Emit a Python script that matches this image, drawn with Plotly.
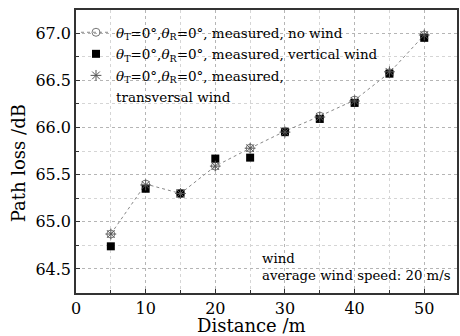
import plotly.graph_objects as go

distance = [5, 10, 15, 20, 25, 30, 35, 40, 45, 50]
no_wind = [64.87, 65.40, 65.30, 65.59, 65.78, 65.96, 66.12, 66.29, 66.58, 66.98]
vertical_wind = [64.74, 65.35, 65.30, 65.67, 65.68, 65.95, 66.09, 66.26, 66.57, 66.95]
transversal_wind = [64.87, 65.39, 65.30, 65.59, 65.78, 65.95, 66.11, 66.28, 66.59, 66.98]

lbl = "<i>θ</i><sub>T</sub>=0°,<i>θ</i><sub>R</sub>=0°, measured, "
names = [lbl + "no wind", lbl + "vertical wind", lbl.rstrip(), "transversal wind"]

FONT = "DejaVu Serif"

# plot area in pixels (for converting layout positions to paper fractions)
L, R, T, B = 76, 459, 10, 293
W, H = R - L, B - T
px = lambda x: (x - L) / W
py = lambda y: (B - y) / H

fig = go.Figure()
fig.add_trace(go.Scatter(
    x=distance, y=no_wind, mode="lines+markers", name=names[0], legendgroup="a",
    line=dict(color="#888888", width=1, dash="dot"),
    marker=dict(symbol="circle-open", size=8, color="#777777", line=dict(width=1))))
fig.add_trace(go.Scatter(
    x=distance, y=vertical_wind, mode="markers", name=names[1], legendgroup="b",
    marker=dict(symbol="square", size=8, color="black")))
fig.add_trace(go.Scatter(
    x=distance, y=transversal_wind, mode="markers", name=names[2], legendgroup="c",
    marker=dict(symbol="asterisk-open", size=9, color="#555555", line=dict(width=1, color="#555555"))))
# continuation line of the third legend label
fig.add_trace(go.Scatter(
    x=[None], y=[None], mode="markers", name=names[3], legendgroup="d",
    marker=dict(symbol="square", size=8, color="rgba(0,0,0,0)"), hoverinfo="skip"))

# white boxes hiding the grid behind legend and note (below the data marks)
fig.add_shape(type="rect", xref="paper", yref="paper", x0=0, x1=px(375), y0=py(90), y1=1,
              fillcolor="white", line=dict(width=0), layer="between")
fig.add_shape(type="rect", xref="paper", yref="paper", x0=0, x1=px(300), y0=py(102), y1=py(89),
              fillcolor="white", line=dict(width=0), layer="between")
fig.add_shape(type="rect", xref="paper", yref="paper", x0=px(258), x1=1, y0=0, y1=py(250),
              fillcolor="white", line=dict(width=0), layer="between")

fig.add_annotation(
    x=px(262), y=py(267), xref="paper", yref="paper", xanchor="left", yanchor="middle",
    text="wind<br>average wind speed: 20 m/s", showarrow=False, align="left",
    font=dict(family=FONT, size=13.3, color="black"), borderpad=0)

# axis titles
fig.add_annotation(
    xref="paper", yref="paper", x=px(252.5), y=py(325), text="Distance /m", showarrow=False,
    xanchor="center", yanchor="middle", font=dict(family=FONT, size=18, color="black"))
fig.add_annotation(
    xref="paper", yref="paper", x=px(18), y=py(163),
    text="Path loss /dB", textangle=-90, showarrow=False, xanchor="center", yanchor="middle",
    font=dict(family=FONT, size=18, color="black"))

axis_common = dict(
    showline=True, linecolor="#333333", linewidth=1.5, mirror=True,
    ticks="inside", ticklen=4, tickcolor="#333333",
    showgrid=True, gridcolor="#b5b5b5", griddash="dot", gridwidth=1,
    zeroline=False, tickfont=dict(family=FONT, size=16, color="black"),
)

fig.update_xaxes(
    range=[0, 54.7], tickvals=[0, 10, 20, 30, 40, 50],
    minor=dict(tickvals=[5, 15, 25, 35, 45], ticks="inside", ticklen=3, tickcolor="#333333",
               showgrid=True, gridcolor="#d5d5d5", griddash="dot"),
    **axis_common)
fig.update_yaxes(
    range=[64.245, 67.245], tickvals=[64.5, 65.0, 65.5, 66.0, 66.5, 67.0], tickformat=".1f",
    minor=dict(dtick=0.25, ticks="inside", ticklen=3, tickcolor="#333333",
               showgrid=True, gridcolor="#d5d5d5", griddash="dot"),
    **axis_common)

fig.update_layout(
    width=460, height=336, margin=dict(l=L, r=460 - R, t=T, b=336 - B),
    plot_bgcolor="white", paper_bgcolor="white",
    font=dict(family=FONT, color="black"),
    showlegend=True,
    legend=dict(x=0, y=1 - 7 / H, xanchor="left", yanchor="top", bgcolor="rgba(0,0,0,0)",
                font=dict(family=FONT, size=13.5, color="black"), valign="middle",
                traceorder="grouped", tracegroupgap=1, itemwidth=30),
)

fig.write_html("out.html")
